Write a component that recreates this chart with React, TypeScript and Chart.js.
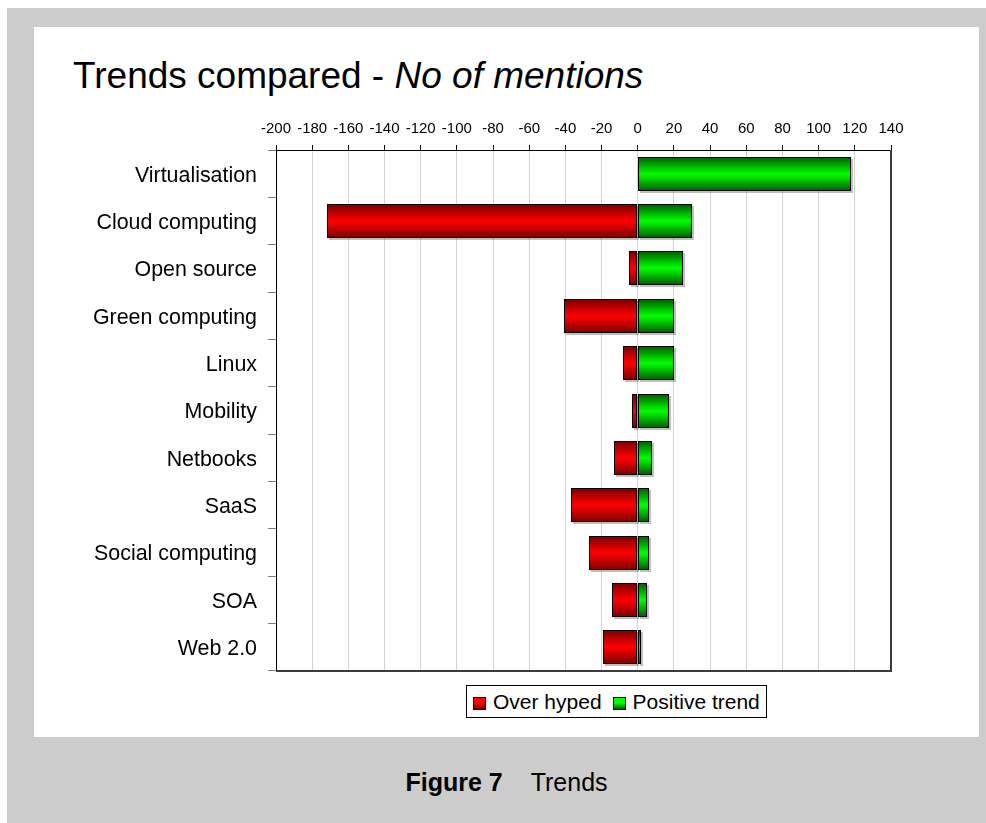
import React, { useEffect, useRef } from 'react';
import { Chart, registerables } from 'chart.js';

Chart.register(...registerables);

// ---- data ----
const categories = [
  'Virtualisation',
  'Cloud computing',
  'Open source',
  'Green computing',
  'Linux',
  'Mobility',
  'Netbooks',
  'SaaS',
  'Social computing',
  'SOA',
  'Web 2.0',
];
const overHyped = [0, -172, -5, -41, -8, -3, -13, -37, -27, -14, -19];
const positiveTrend = [118, 30, 25, 20, 20, 17, 8, 6, 6, 5, 2];
const seriesLabels = ['Over hyped', 'Positive trend'];
const xMin = -200;
const xMax = 140;
const xStep = 20;

// ---- styles ----
const FONT = "'Liberation Sans', Arial, Helvetica, sans-serif";
const RED_DARK = '#7a0000';
const RED_LIGHT = '#ff0000';
const GREEN_DARK = '#005a00';
const GREEN_LIGHT = '#00ff00';

function makeGradient(dark: string, light: string) {
  return (ctx: any) => {
    const chart = ctx.chart;
    const yScale = chart.scales && chart.scales.y;
    if (!yScale || ctx.dataIndex === undefined || !chart.chartArea) return light;
    const yc = Math.round(yScale.getPixelForValue(ctx.dataIndex));
    const half = 17;
    const g = chart.ctx.createLinearGradient(0, yc - half, 0, yc + half);
    g.addColorStop(0, dark);
    g.addColorStop(0.5, light);
    g.addColorStop(1, dark);
    return g;
  };
}

// snaps the library-computed bar geometry to whole pixels (crisp borders) and draws a soft drop shadow
const barPlugin = {
  id: 'barSnapShadow',
  beforeDatasetsDraw(chart: any) {
    const ctx = chart.ctx;
    chart.data.datasets.forEach((_: any, di: number) => {
      chart.getDatasetMeta(di).data.forEach((el: any) => {
        el.x = Math.round(el.x);
        el.base = Math.round(el.base);
        el.y = Math.round(el.y);
      });
    });
    ctx.save();
    ctx.fillStyle = 'rgba(0,0,0,0.25)';
    chart.data.datasets.forEach((_: any, di: number) => {
      chart.getDatasetMeta(di).data.forEach((el: any) => {
        const l = Math.min(el.x, el.base);
        const r = Math.max(el.x, el.base);
        if (r - l < 1) return;
        ctx.fillRect(l + 2, el.y - el.height / 2 + 2, r - l, el.height);
      });
    });
    ctx.restore();
  },
};

const framePlugin = {
  id: 'plotFrame',
  afterDraw(chart: any) {
    const { ctx, chartArea: a } = chart;
    ctx.save();
    ctx.strokeStyle = '#3c3c3c';
    ctx.lineWidth = 2;
    ctx.beginPath();
    ctx.moveTo(a.right, a.top);
    ctx.lineTo(a.right, a.bottom);
    ctx.lineTo(a.left, a.bottom);
    ctx.stroke();
    ctx.restore();
  },
};

export default function App() {
  const ref = useRef<HTMLCanvasElement>(null);

  useEffect(() => {
    const canvas = ref.current;
    if (!canvas) return;
    Chart.defaults.font.family = FONT;
    const barCommon = {
      borderColor: '#000000',
      borderWidth: 1,
      borderSkipped: false,
      inflateAmount: 0,
      barThickness: 34,
    };
    const chart = new Chart(canvas, {
      type: 'bar',
      data: {
        labels: categories,
        datasets: [
          {
            label: seriesLabels[0],
            data: overHyped,
            backgroundColor: makeGradient(RED_DARK, RED_LIGHT),
            ...barCommon,
          },
          {
            label: seriesLabels[1],
            data: positiveTrend,
            backgroundColor: makeGradient(GREEN_DARK, GREEN_LIGHT),
            ...barCommon,
          },
        ],
      },
      options: {
        indexAxis: 'y',
        responsive: false,
        maintainAspectRatio: false,
        animation: false,
        devicePixelRatio: 1,
        layout: { padding: { left: 0, top: 0, right: 88, bottom: 16 } },
        plugins: {
          legend: { display: false },
          tooltip: { enabled: false },
          title: { display: false },
        },
        scales: {
          x: {
            position: 'top',
            stacked: true,
            min: xMin,
            max: xMax,
            ticks: {
              stepSize: xStep,
              color: '#000000',
              font: { family: FONT, size: 15 },
              padding: 7,
              maxRotation: 0,
              autoSkip: false,
            },
            grid: {
              color: '#d2d2d2',
              tickColor: '#000000',
              tickLength: 5,
              lineWidth: 1,
            },
            border: { color: '#000000', width: 1 },
            afterFit: (s: any) => {
              s.height = 123;
              s.paddingLeft = 0;
              s.paddingRight = 0;
            },
          },
          y: {
            stacked: true,
            ticks: {
              color: '#000000',
              font: { family: FONT, size: 21.4 },
              padding: 11,
              labelOffset: 2,
              autoSkip: false,
            },
            grid: {
              offset: true,
              drawOnChartArea: false,
              tickLength: 8,
              tickColor: '#808080',
              lineWidth: 1,
            },
            border: { color: '#000000', width: 1 },
            afterFit: (s: any) => {
              s.width = 242;
              s.paddingTop = 0;
              s.paddingBottom = 0;
            },
          },
        },
      },
      plugins: [barPlugin, framePlugin],
    } as any);
    return () => chart.destroy();
  }, []);

  const swatches = [
    `linear-gradient(${RED_LIGHT} 45%, ${RED_DARK})`,
    `linear-gradient(${GREEN_LIGHT} 45%, ${GREEN_DARK})`,
  ];

  return (
    <div
      style={{
        position: 'absolute',
        left: 0,
        top: 0,
        width: 986,
        height: 823,
        overflow: 'hidden',
        fontFamily: FONT,
        color: '#000',
      }}
    >
      <div style={{ position: 'absolute', left: 7, top: 8, width: 979, height: 815, background: '#cccccc' }} />
      <div style={{ position: 'absolute', left: 34, top: 27, width: 945, height: 710, background: '#ffffff' }} />
      <div
        style={{
          position: 'absolute',
          left: 73,
          top: 57,
          fontSize: 37,
          lineHeight: '37px',
          whiteSpace: 'nowrap',
        }}
      >
        Trends compared - <i>No of mentions</i>
      </div>
      <canvas
        ref={ref}
        width={945}
        height={660}
        style={{ position: 'absolute', left: 34, top: 27, width: 945, height: 660 }}
      />
      <div
        style={{
          position: 'absolute',
          left: 466,
          top: 685,
          height: 33,
          boxSizing: 'border-box',
          border: '1px solid #000',
          display: 'flex',
          alignItems: 'center',
          padding: '0 6px',
          fontSize: 21,
          lineHeight: '31px',
          whiteSpace: 'nowrap',
          background: '#fff',
        }}
      >
        {seriesLabels.map((label, i) => (
          <span key={label} style={{ display: 'flex', alignItems: 'center', marginLeft: i ? 11 : 0 }}>
            <span
              style={{
                display: 'inline-block',
                width: 13,
                height: 13,
                boxSizing: 'border-box',
                border: '1px solid #000',
                background: swatches[i],
                marginRight: 7,
                position: 'relative',
                top: 2,
              }}
            />
            {label}
          </span>
        ))}
      </div>
      <div
        style={{
          position: 'absolute',
          left: 34,
          width: 945,
          top: 770,
          textAlign: 'center',
          fontSize: 25,
          lineHeight: '25px',
          whiteSpace: 'nowrap',
        }}
      >
        <b>Figure 7</b>
        <span style={{ marginLeft: 28 }}>Trends</span>
      </div>
    </div>
  );
}
